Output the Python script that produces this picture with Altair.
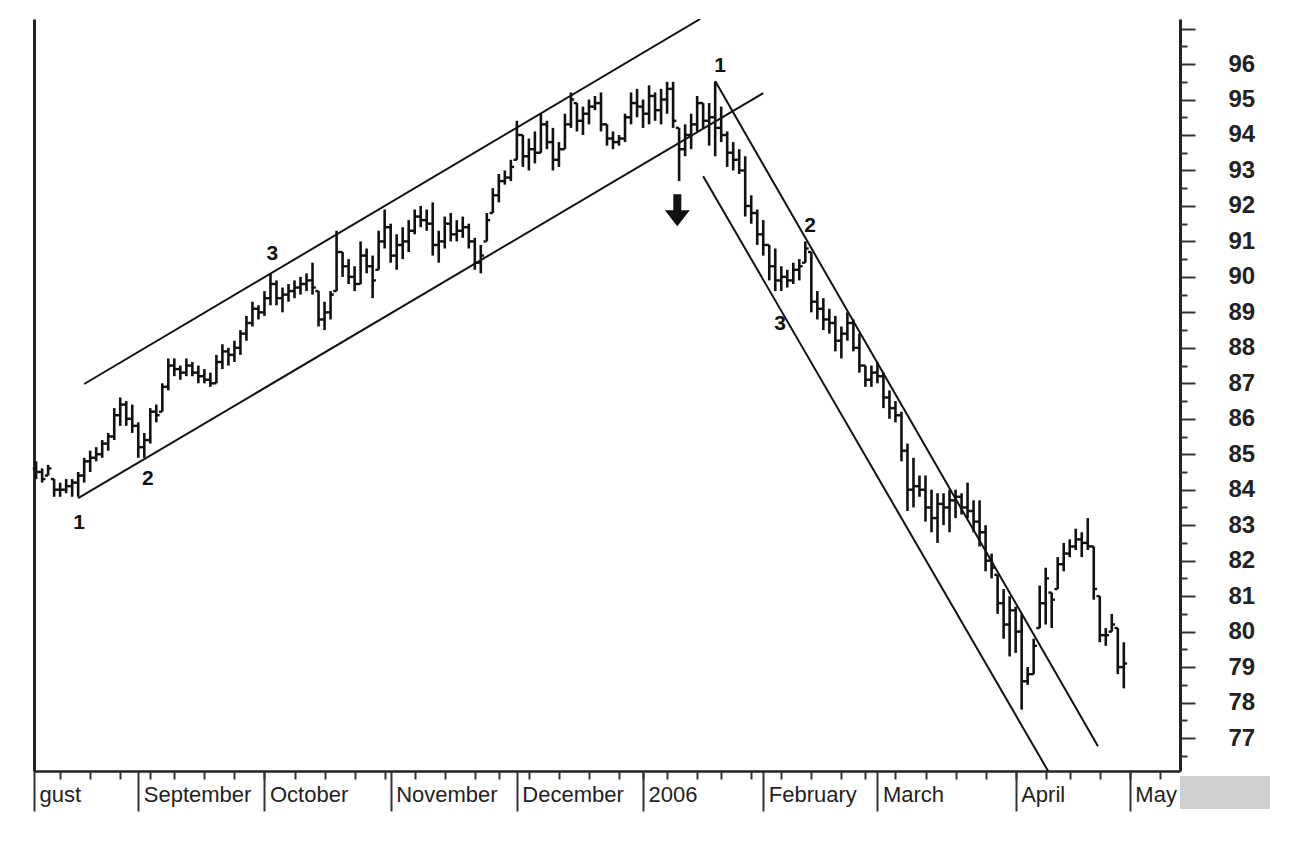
import altair as alt
import pandas as pd

# ---- daily OHLC values (trading-day index 0..181) ----
highs = [84.8,84.6,84.7,84.3,84.2,84.3,84.3,84.5,84.9,85.1,
         85.2,85.4,85.6,86.3,86.6,86.5,86.4,85.9,85.6,86.3,
         86.4,87.0,87.7,87.7,87.5,87.7,87.6,87.5,87.4,87.3,
         87.8,88.1,88.0,88.2,88.5,88.9,89.3,89.2,89.6,90.1,
         89.9,89.7,89.8,89.9,90.0,90.1,90.4,89.6,89.3,89.6,
         91.3,90.7,90.5,90.3,91.0,90.8,90.6,91.3,91.9,91.5,
         91.2,91.4,91.6,91.9,92.0,91.9,92.1,91.3,91.7,91.8,
         91.6,91.7,91.5,91.1,90.9,91.8,92.5,92.9,93.0,93.3,
         94.4,94.0,93.9,94.1,94.6,94.4,94.2,93.8,94.6,95.2,
         94.9,94.8,95.0,95.1,95.2,94.3,94.1,94.0,94.6,95.2,
         95.3,95.0,95.4,95.2,95.3,95.5,95.5,94.2,94.3,94.6,
         95.1,94.9,94.9,95.5,94.8,94.1,93.8,93.6,93.4,92.3,
         91.9,91.6,90.9,90.8,90.3,90.2,90.4,90.5,91.0,90.7,
         89.6,89.4,89.1,88.9,88.6,89.0,88.8,88.4,87.5,87.5,
         87.6,87.3,86.8,86.5,86.2,85.3,84.9,84.4,84.4,84.0,
         83.9,83.9,84.0,84.0,83.9,84.2,83.7,83.7,83.0,82.2,
         81.6,81.2,81.0,80.7,80.5,79.0,79.8,81.3,81.8,81.1,
         82.1,82.5,82.6,82.9,82.8,83.2,82.4,81.0,80.1,80.5,
         80.1,79.7]
lows = [84.3,84.2,84.4,83.8,83.8,83.9,83.8,83.8,84.2,84.5,
        84.8,84.9,85.1,85.4,85.8,85.8,85.6,84.9,84.9,85.3,
        85.9,86.2,86.8,87.2,87.1,87.2,87.2,87.0,87.0,86.9,
        87.0,87.4,87.5,87.6,87.8,88.2,88.6,88.8,88.9,89.2,
        89.2,89.0,89.3,89.4,89.5,89.6,89.5,88.6,88.5,88.8,
        89.6,90.0,89.8,89.6,89.8,90.1,89.4,90.2,90.8,90.4,
        90.2,90.5,90.7,91.2,91.4,91.3,90.6,90.4,90.8,91.0,
        91.0,91.1,90.8,90.2,90.1,91.0,91.8,92.1,92.6,92.7,
        93.3,93.1,93.0,93.2,93.5,93.6,93.0,93.1,93.6,94.2,
        94.1,94.0,94.3,94.7,94.1,93.7,93.6,93.7,93.8,94.3,
        94.5,94.2,94.3,94.4,94.3,94.6,94.2,92.7,93.4,93.6,
        94.1,94.2,93.7,93.4,93.8,93.1,93.0,92.9,91.7,91.5,
        90.9,90.6,89.9,89.6,89.6,89.7,89.8,89.9,90.4,89.0,
        88.8,88.5,88.4,87.9,87.7,88.2,87.9,87.3,86.9,86.9,
        87.0,86.3,86.0,85.9,84.8,83.4,83.5,83.8,83.1,82.8,
        82.5,83.0,82.8,83.2,83.3,83.2,82.8,82.4,81.7,81.5,
        80.5,79.8,79.3,79.4,77.8,78.5,78.8,80.1,80.2,80.1,
        81.2,81.7,82.1,82.3,82.1,82.3,80.9,79.7,79.6,80.0,
        78.8,78.4]
opens = [84.6,84.5,84.4,84.3,84.0,84.0,84.1,84.2,84.4,84.8,
         84.9,85.0,85.3,85.5,86.1,86.4,86.0,85.8,85.2,85.4,
         86.2,86.2,86.9,87.5,87.4,87.3,87.5,87.3,87.2,87.1,
         87.0,87.6,87.9,87.8,88.0,88.4,88.7,89.1,89.0,89.4,
         89.8,89.4,89.5,89.6,89.7,89.8,89.9,89.6,88.8,89.0,
         89.6,90.7,90.3,90.0,89.8,90.6,90.3,90.2,91.0,91.4,
         90.6,90.9,91.0,91.3,91.7,91.6,91.5,90.9,91.0,91.5,
         91.2,91.3,91.4,91.0,90.4,91.0,91.8,92.3,92.7,92.8,
         93.3,94.0,93.4,93.6,93.5,94.3,93.8,93.3,93.6,94.3,
         94.9,94.4,94.6,94.8,94.9,94.3,93.9,93.8,93.9,94.5,
         94.9,94.8,94.6,95.1,94.7,95.0,95.3,94.2,93.6,94.0,
         94.3,94.9,94.4,94.5,94.2,94.0,93.5,93.3,93.0,92.0,
         91.8,91.2,90.9,90.3,89.9,90.0,89.9,90.2,90.4,90.7,
         89.3,89.1,88.8,88.7,88.2,88.4,88.7,88.0,87.5,87.1,
         87.3,87.2,86.6,86.3,86.1,85.1,84.0,84.1,84.0,83.5,
         83.2,83.6,83.5,83.7,83.8,83.5,83.4,83.1,82.8,82.0,
         81.6,80.8,80.2,80.6,80.0,78.6,78.8,80.1,80.8,81.1,
         81.2,81.9,82.2,82.4,82.6,82.5,82.4,81.0,79.9,80.0,
         80.1,79.0]
closes = [84.5,84.3,84.6,84.0,84.0,84.1,84.2,84.4,84.8,84.9,
          85.0,85.3,85.5,86.1,86.4,86.0,85.8,85.2,85.4,86.2,
          86.1,86.9,87.5,87.4,87.3,87.5,87.3,87.2,87.1,87.0,
          87.6,87.9,87.8,88.0,88.4,88.7,89.1,89.0,89.4,89.8,
          89.4,89.5,89.6,89.7,89.8,89.9,89.7,88.8,89.0,89.5,
          90.7,90.3,90.0,89.8,90.6,90.3,89.9,91.0,91.4,90.6,
          90.9,91.0,91.3,91.7,91.6,91.5,90.9,91.0,91.5,91.2,
          91.3,91.4,91.0,90.4,90.6,91.6,92.3,92.7,92.8,93.1,
          94.0,93.4,93.6,93.5,94.3,93.8,93.3,93.6,94.3,95.0,
          94.4,94.6,94.8,94.9,94.3,93.9,93.8,93.9,94.5,94.9,
          94.8,94.6,95.1,94.7,95.0,95.3,94.4,93.6,94.0,94.3,
          94.9,94.4,94.5,94.2,94.0,93.5,93.3,93.0,92.0,91.8,
          91.2,90.9,90.3,89.9,90.0,89.9,90.2,90.3,90.8,89.3,
          89.1,88.8,88.7,88.2,88.4,88.7,88.0,87.5,87.1,87.3,
          87.2,86.6,86.3,86.1,85.1,84.0,84.1,84.0,83.5,83.2,
          83.6,83.5,83.7,83.8,83.5,83.4,83.1,82.8,82.0,81.8,
          80.8,80.2,80.6,80.0,78.6,78.8,79.6,80.8,81.5,80.9,
          81.9,82.2,82.4,82.6,82.5,82.4,81.2,79.9,79.9,80.2,
          79.0,79.1]

# ---- axis tick values / labels ----
month_ticks = [-0.35, 17, 38, 59, 80, 101, 121, 140, 163, 182]
month_names = ["gust", "September", "October", "November", "December",
               "2006", "February", "March", "April", "May"]
week_ticks = [4, 9, 14, 19, 23, 28, 33, 38, 43, 48, 53, 58, 63, 68, 73, 77,
              82, 87, 92, 97, 101, 105, 110, 114, 119, 124, 129, 134, 138,
              143, 148, 153, 158, 163, 168, 172, 177, 182, 187]
price_major = [77, 78, 79, 80, 81, 82, 83, 84, 85, 86, 87, 88, 89, 90, 91,
               92, 93, 94, 95, 96, 97]
price_minor = [76.5, 77.5, 78.5, 79.5, 80.5, 81.5, 82.5, 83.5, 84.5, 85.5,
               86.5, 87.5, 88.5, 89.5, 90.5, 91.5, 92.5, 93.5, 94.5, 95.5,
               96.5]

# ---- trend channel lines (start / end in index, price) ----
line_x1 = [8.0, 7.0, 113.0, 111.0]
line_y1 = [86.98, 83.76, 95.52, 92.84]
line_x2 = [110.5, 121.0, 176.7, 168.4]
line_y2 = [97.27, 95.18, 76.77, 76.07]

# ---- wave annotations ----
wave_text = ["1", "2", "3", "1", "2", "3"]
wave_x = [7.15, 18.6, 39.3, 113.8, 128.8, 123.8]
wave_y = [83.06, 84.30, 90.64, 95.94, 91.43, 88.67]

arrow_x = [106.7]
arrow_y = [91.88]

X_DOMAIN = [-0.35, 190.35]
Y_DOMAIN = [76.07, 97.27]
FONT = "Liberation Sans"
INK = "#111111"

df = pd.DataFrame({"i": list(range(len(highs))), "high": highs, "low": lows,
                   "open": opens, "close": closes})
lines_df = pd.DataFrame({"x1": line_x1, "y1": line_y1, "x2": line_x2, "y2": line_y2})
wave_df = pd.DataFrame({"t": wave_text, "x": wave_x, "y": wave_y})
arrow_df = pd.DataFrame({"x": arrow_x, "y": arrow_y})

xs = alt.Scale(domain=X_DOMAIN, nice=False, zero=False)
ys = alt.Scale(domain=Y_DOMAIN, nice=False, zero=False)

label_expr = ("[" + ",".join("'%s'" % n for n in month_names) + "][indexof(["
              + ",".join(str(v) for v in month_ticks) + "], datum.value)]")

month_axis = alt.Axis(orient="bottom", values=month_ticks, labelExpr=label_expr,
                      tickSize=40, tickWidth=2, tickColor="#333",
                      domainColor="#222", domainWidth=2.5,
                      labelAlign="left", labelBaseline="middle",
                      labelPadding=-17, labelOffset=5, labelFont=FONT,
                      labelFontSize=22, labelColor="#222",
                      labelFlush=False, labelOverlap=False, grid=False, title=None)
week_axis = alt.Axis(orient="bottom", values=week_ticks, tickSize=8, tickWidth=2,
                     tickColor="#333", labels=False, domain=False, grid=False,
                     title=None)
major_y = alt.Axis(orient="right", values=price_major, tickSize=15, tickWidth=2,
                   tickColor="#333", domainColor="#222", domainWidth=3,
                   labelExpr="datum.value > 96.5 ? '' : datum.label",
                   labelAlign="left", labelBaseline="middle", labelPadding=33,
                   labelFont=FONT, labelFontSize=24, labelFontWeight="bold",
                   labelColor="#222", labelFlush=False, labelOverlap=False,
                   grid=False, title=None)
minor_y = alt.Axis(orient="right", values=price_minor, tickSize=7, tickWidth=2,
                   tickColor="#333", labels=False, domain=False, grid=False,
                   title=None)
left_y = alt.Axis(orient="left", ticks=False, labels=False, domain=True,
                  domainColor="#222", domainWidth=3, grid=False, title=None)

base = alt.Chart(df)
bars = base.mark_rule(color=INK, strokeWidth=2.6).encode(
    x=alt.X("i:Q", scale=xs, axis=month_axis),
    y=alt.Y("low:Q", scale=ys, axis=major_y),
    y2="high:Q",
)
open_ticks = base.transform_calculate(xo="datum.i - 0.55").mark_rule(
    color=INK, strokeWidth=2.4).encode(
    x=alt.X("xo:Q", scale=xs, axis=week_axis),
    x2="i:Q",
    y=alt.Y("open:Q", scale=ys, axis=minor_y),
)
close_ticks = base.transform_calculate(xc="datum.i + 0.55").mark_rule(
    color=INK, strokeWidth=2.4).encode(
    x=alt.X("i:Q", scale=xs, axis=None),
    x2="xc:Q",
    y=alt.Y("close:Q", scale=ys, axis=left_y),
)
channels = alt.Chart(lines_df).mark_rule(color=INK, strokeWidth=2, clip=True).encode(
    x=alt.X("x1:Q", scale=xs, axis=None),
    x2="x2:Q",
    y=alt.Y("y1:Q", scale=ys, axis=None),
    y2="y2:Q",
)
waves = alt.Chart(wave_df).mark_text(font=FONT, fontSize=21, fontWeight="bold",
                                     color=INK).encode(
    x=alt.X("x:Q", scale=xs, axis=None),
    y=alt.Y("y:Q", scale=ys, axis=None),
    text="t:N",
)
arrow_path = "M-0.25,-1L0.25,-1L0.25,0L0.78,0L0,1L-0.78,0L-0.25,0Z"
arrow = alt.Chart(arrow_df).mark_point(shape=arrow_path, size=1024, filled=True,
                                       color=INK, opacity=1, strokeWidth=0).encode(
    x=alt.X("x:Q", scale=xs, axis=None),
    y=alt.Y("y:Q", scale=ys, axis=None),
)
corner_box = alt.Chart(pd.DataFrame({"k": [0]})).mark_rect(color="#cfcfcf").encode(
    x=alt.value(1146), x2=alt.value(1236), y=alt.value(757), y2=alt.value(790)
)

chart = alt.layer(
    bars, open_ticks, close_ticks, channels, waves, arrow, corner_box
).resolve_axis(x="independent", y="independent").properties(
    width=1146, height=752,
    padding={"left": 23, "top": 8, "right": 5, "bottom": 5},
    background="white",
).configure_view(stroke=None)

chart.save("out.html", embed_options={"renderer": "svg", "actions": False})
